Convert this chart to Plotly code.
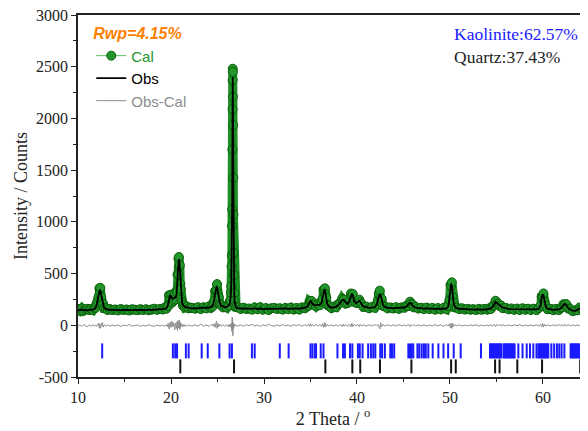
import plotly.graph_objects as go

# ---------------- data ----------------
two_theta = [
    10.0, 10.2, 10.4, 10.6, 10.8, 11.0, 11.2, 11.4, 11.6,
    11.8, 11.9, 12.0, 12.1, 12.2, 12.3, 12.35, 12.4, 12.5, 12.6, 12.7, 12.8, 13.0, 13.2,
    13.4, 13.7, 14.0, 14.3, 14.6, 14.9, 15.2, 15.5, 15.8, 16.1, 16.4, 16.7, 17.0, 17.3, 17.6, 17.9, 18.2, 18.5, 18.8, 19.1, 19.3,
    19.5, 19.6, 19.7, 19.8, 19.9, 20.0, 20.1, 20.2, 20.3, 20.4, 20.5, 20.6, 20.65, 20.7, 20.75, 20.8, 20.85, 20.9, 20.95, 21.0,
    21.05, 21.1, 21.2, 21.3, 21.4, 21.5, 21.7, 21.9, 22.1,
    22.3, 22.6, 22.9, 23.2, 23.5, 23.8, 24.1, 24.3,
    24.45, 24.55, 24.65, 24.75, 24.85, 24.9, 24.95, 25.05, 25.15, 25.25, 25.4, 25.6, 25.8, 26.0, 26.15, 26.25, 26.35,
    26.40, 26.44, 26.48, 26.51, 26.54, 26.56, 26.58, 26.60, 26.62, 26.63, 26.64, 26.65, 26.66, 26.68, 26.70, 26.72, 26.74, 26.77, 26.80, 26.84, 26.90, 27.0,
    27.2, 27.5, 27.8, 28.1, 28.4, 28.7, 29.0, 29.3, 29.6, 29.9, 30.2, 30.5, 30.8, 31.1, 31.4, 31.7, 32.0, 32.3, 32.6, 32.9, 33.2, 33.5, 33.8, 34.1, 34.4,
    34.6, 34.8, 34.9, 35.0, 35.1, 35.2, 35.4, 35.6, 35.8, 36.0, 36.2, 36.3, 36.4, 36.5, 36.55, 36.6, 36.7, 36.8, 37.0, 37.25,
    37.5, 37.75, 38.0, 38.2, 38.4, 38.5, 38.6, 38.8, 39.0, 39.2, 39.35, 39.45, 39.55, 39.7, 39.9, 40.1, 40.25, 40.35, 40.5, 40.7,
    41.0, 41.3, 41.6, 41.9, 42.1, 42.25, 42.35, 42.45, 42.55, 42.65, 42.8, 43.0, 43.3, 43.6, 43.9, 44.2, 44.5, 44.8, 45.1, 45.3,
    45.5, 45.7, 45.8, 45.95, 46.1, 46.3, 46.6, 46.9,
    47.2, 47.5, 47.8, 48.1, 48.4, 48.7, 49.0, 49.3, 49.6, 49.8, 49.95, 50.05, 50.12, 50.2, 50.3, 50.4, 50.55, 50.7, 51.0, 51.3,
    51.6, 51.9, 52.2, 52.5, 52.8, 53.1, 53.4, 53.7, 54.0, 54.2,
    54.4, 54.6, 54.75, 54.9, 55.05, 55.2, 55.35, 55.5, 55.7, 56.0, 56.3, 56.6, 56.9, 57.2, 57.5, 57.8, 58.1, 58.4, 58.7, 59.0,
    59.3, 59.55, 59.75, 59.85, 59.95, 60.05, 60.15, 60.3, 60.5, 60.8, 61.1, 61.4, 61.7, 61.9, 62.05, 62.2, 62.35, 62.5, 62.7, 62.95,
    63.2, 63.5, 63.75, 63.95, 64.1, 64.3, 64.6, 64.9,
]
obs = [
    150, 146, 151, 147, 149, 145, 150, 148, 152,
    160, 172, 198, 240, 292, 333, 345, 332, 285, 228, 190, 170, 157, 151,
    148, 151, 146, 149, 145, 150, 147, 151, 146, 148, 150, 145, 149, 147, 152, 148, 150, 153, 151, 155, 158,
    165, 178, 205, 255, 292, 276, 258, 254, 262, 268, 270, 300, 350, 440, 540, 620, 640, 615, 540, 430,
    330, 265, 215, 195, 186, 178, 172, 168, 165,
    162, 166, 164, 170, 166, 168, 172, 176,
    188, 208, 250, 310, 360, 378, 368, 318, 255, 215, 190, 178, 174, 178, 186, 198, 220,
    245, 300, 400, 540, 720, 900, 1200, 1650, 2150, 2330, 2400, 2350, 2250, 1900, 1450, 1040, 720, 470, 320, 228, 190, 172,
    166, 162, 160, 163, 158, 161, 164, 159, 162, 157, 160, 158, 162, 159, 161, 157, 160, 163, 158, 161, 159, 163, 160, 165, 170,
    176, 200, 222, 235, 226, 208, 196, 192, 195, 200, 220, 265, 325, 345, 342, 318, 255, 205, 180, 171,
    172, 180, 196, 224, 245, 248, 240, 216, 206, 240, 292, 306, 290, 235, 212, 224, 236, 230, 202, 182,
    172, 169, 171, 176, 195, 245, 288, 300, 288, 240, 195, 175, 168, 165, 166, 167, 165, 168, 172, 180,
    196, 216, 214, 196, 178, 170, 166, 163,
    161, 163, 160, 162, 159, 161, 158, 160, 162, 178, 260, 365, 403, 385, 290, 210, 178, 166, 160, 157,
    155, 153, 155, 152, 154, 151, 153, 152, 155, 158,
    163, 180, 204, 225, 216, 202, 196, 182, 170, 162, 158, 156, 155, 157, 154, 156, 153, 155, 152, 154,
    153, 160, 195, 262, 300, 290, 240, 180, 160, 152, 150, 151, 153, 162, 178, 196, 210, 196, 168, 150,
    141, 139, 150, 165, 168, 150, 128, 118,
]
obs_minus_cal = [
    -8, 4, -12, 6, -5, -14, 3, -9, 5,
    -6, 2, -10, 8, 20, -25, 15, -30, 12, 28, -18, 6, -8, 4,
    -10, 3, -7, 5, -12, 2, -6, 8, -9, -3, 4, -11, 1, -8, 6, -5, -10, 3, -7, 2, -12,
    5, -12, 18, -35, 30, -20, 40, -15, 25, -45, 20, -30, 35, -50, 45, -25, -20, 50, -40, 30,
    -20, 15, -10, 8, -12, 6, -9, 4, -6,
    -6, 5, -10, 12, -8, 4, -11, 7,
    8, -10, 15, -20, 25, 40, -30, 18, -15, 10, -8, 5, -10, 6, -12, 8, -15,
    5, -15, 20, -30, 45, -60, 80, -50, 60, -40, -80, -100, 40, -35, 25, -30, 20, -15, 10, -8, 5, -3,
    -7, 4, -10, 6, -4, 9, -8, 3, -12, 5, -6, 10, -3, -9, 4, -7, 8, -5, 2, -10, 6, -4, 7, -8, 5,
    -6, 10, -12, 15, -10, 8, -6, 9, -8, 6, -10, 15, -20, 25, -15, 20, -12, 8, -6, 5,
    -8, 6, -10, 8, -12, 10, -8, 6, -10, 12, -15, 20, -12, 8, -6, 10, -12, 8, -6, 5,
    -8, 4, -6, 7, -5, 10, -20, -35, 25, -15, 8, -6, 5, -8, 4, -7, 6, -5, 3, -8,
    10, -12, 8, -6, 5, -7, 4, -6,
    5, -8, 3, -6, 7, -5, 4, -9, 6, -8, 15, -25, 20, -30, 18, -10, 6, -5, 4, -7,
    3, -6, 5, -4, 6, -8, 3, -6, 4, -5,
    6, -8, 10, -12, 8, -6, 9, -7, 5, -6, 4, -7, 5, -4, 6, -8, 3, -5, 4, -6,
    5, -7, 8, -15, 20, -18, 12, -8, 5, -6, 4, -5, 6, -4, 5, -8, 10, -7, 6, -5,
    4, -6, 5, -8, 10, -6, 5, -4,
]
cal = [o - d for o, d in zip(obs, obs_minus_cal)]

kaolinite_refl = [
    12.6, 20.2, 20.45, 20.65, 21.6, 21.9, 23.3, 23.95, 25.2, 26.3, 26.55, 28.7, 29.0, 31.7, 32.65,
    35.0, 35.2, 35.45, 35.6, 36.1, 36.4, 37.9, 38.5, 38.7, 39.25, 39.5, 40.1, 40.3, 40.6, 41.2, 41.5,
    41.75, 41.97, 42.5, 42.7, 43.0, 43.58, 43.76, 44.0, 45.52, 45.7, 45.88, 46.05, 46.5, 46.7, 46.96,
    47.2, 47.4, 47.67, 48.14, 48.75, 49.3, 49.8, 50.4, 51.15, 53.33,
    54.3, 54.42, 54.54, 54.66, 54.78, 54.9, 55.02, 55.14, 55.26, 55.38, 55.5,
    55.75, 55.87, 55.99, 56.11, 56.23, 56.35, 56.47, 56.59, 56.71, 56.83, 56.95,
    57.35, 57.8, 58.25, 58.6, 58.96, 59.3,
    59.5, 59.62, 59.74, 59.86, 59.98, 60.1, 60.22, 60.34, 60.46, 60.57,
    60.9, 61.2, 61.5, 61.75, 62.0, 62.3,
    62.97, 63.09, 63.21, 63.33, 63.45, 63.57, 63.69, 63.81, 63.93, 64.05, 64.17, 64.29, 64.41, 64.53, 64.65, 64.77,
]
quartz_refl = [21.0, 26.78, 36.6, 39.5, 40.35, 42.47, 45.85, 50.12, 50.62, 54.85, 55.33, 57.24, 59.9, 64.0]

kaolinite_span = [-175, -320]
quartz_span = [-330, -465]

y_tick_vals = [-500, 0, 500, 1000, 1500, 2000, 2500, 3000]
y_tick_text = ["-500", "0", "500", "1000", "1500", "2000", "2500", "3000"]


def bar_path(positions, span):
    xs, ys = [], []
    for p in positions:
        xs += [p, p, None]
        ys += [span[0], span[1], None]
    return xs, ys


fig = go.Figure()

# thick green band under the calculated markers
fig.add_trace(go.Scatter(x=two_theta, y=cal, mode="lines",
                         line=dict(color="#1e8f24", width=9),
                         showlegend=False, hoverinfo="skip"))
fig.add_trace(go.Scatter(
    x=two_theta, y=cal, mode="lines+markers",
    name="<span style='color:#22962a'>Cal</span>",
    line=dict(color="#5cc45c", width=1),
    marker=dict(size=9, color="#22962a", line=dict(color="#0b5e0b", width=1)),
))
fig.add_trace(go.Scatter(
    x=two_theta, y=obs, mode="lines", name="<span style='color:#000000'>Obs</span>",
    line=dict(color="#000000", width=1.8),
))
fig.add_trace(go.Scatter(
    x=two_theta, y=obs_minus_cal, mode="lines",
    name="<span style='color:#8c8c8c'>Obs-Cal</span>",
    line=dict(color="#8c8c8c", width=1),
))

kx, ky = bar_path(kaolinite_refl, kaolinite_span)
fig.add_trace(go.Scatter(x=kx, y=ky, mode="lines", line=dict(color="#1a1aff", width=2),
                         showlegend=False, hoverinfo="skip"))
qx, qy = bar_path(quartz_refl, quartz_span)
fig.add_trace(go.Scatter(x=qx, y=qy, mode="lines", line=dict(color="#111111", width=2),
                         showlegend=False, hoverinfo="skip"))

serif = "Liberation Serif"
# page body has an 8px margin, so the figure is 8px smaller than the window
fig.update_layout(
    width=580, height=423,
    margin=dict(l=70, r=0, t=7, b=54, autoexpand=False),
    paper_bgcolor="white", plot_bgcolor="white",
    showlegend=True,
    legend=dict(
        x=0.026, y=0.99, xanchor="left", yanchor="top",
        bgcolor="rgba(0,0,0,0)",
        font=dict(family="Liberation Sans", size=15, color="#000"),
        title=dict(text="<b><i>Rwp=4.15%</i></b>",
                   font=dict(family="Liberation Sans", size=16, color="#ff7f00")),
    ),
    xaxis=dict(
        range=[10, 64.84], dtick=10, tick0=10,
        showgrid=False, zeroline=False,
        showline=True, linecolor="#222", linewidth=1.5, mirror=True,
        ticks="outside", ticklen=5, tickwidth=1.3, tickcolor="#222",
        minor=dict(dtick=5, tick0=10, ticks="outside", ticklen=3, tickcolor="#222", tickwidth=1.2),
        tickfont=dict(family=serif, size=16, color="#222"),
        title=dict(text="2 Theta / <sup>o</sup>", font=dict(family=serif, size=18, color="#222"),
                   standoff=4),
    ),
    yaxis=dict(
        range=[-500, 3000], tickmode="array", tickvals=y_tick_vals, ticktext=y_tick_text,
        showgrid=False, zeroline=False,
        showline=True, linecolor="#222", linewidth=1.5, mirror=False,
        ticks="outside", ticklen=5, tickwidth=1.3, tickcolor="#222",
        ticklabeloverflow="allow",
        minor=dict(dtick=250, tick0=0, ticks="outside", ticklen=3, tickcolor="#222", tickwidth=1.2),
        tickfont=dict(family=serif, size=16, color="#222"),
        title=dict(text="Intensity / Counts", font=dict(family=serif, size=18, color="#222"),
                   standoff=4),
    ),
    annotations=[
        dict(text="Kaolinite:62.57%", xref="paper", yref="paper", x=0.733, y=0.9475,
             xanchor="left", yanchor="middle", showarrow=False,
             font=dict(family=serif, size=17.5, color="#1a1aff")),
        dict(text="Quartz:37.43%", xref="paper", yref="paper", x=0.733, y=0.884,
             xanchor="left", yanchor="middle", showarrow=False,
             font=dict(family=serif, size=17.5, color="#222")),
    ],
)

fig.write_html("out.html")
